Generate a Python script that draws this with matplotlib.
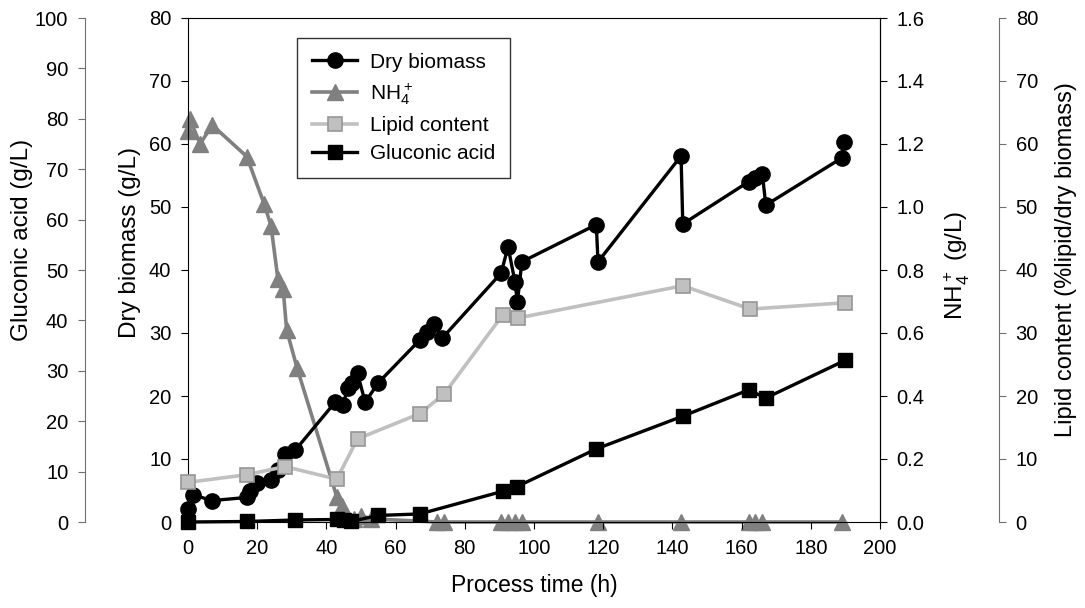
import matplotlib
matplotlib.use("Agg")
import matplotlib.pyplot as plt

plt.rcParams["font.family"] = ["Liberation Sans", "DejaVu Sans"]
plt.rcParams["mathtext.fontset"] = "custom"
plt.rcParams["mathtext.rm"] = "Liberation Sans"
plt.rcParams["mathtext.default"] = "regular"

# --------------------------------------------------
# Data
# --------------------------------------------------
biomass_t = [0, 1.5, 7, 17, 18, 20, 24, 26, 28, 31, 42.5, 44.8, 46.2, 47.4, 49, 51.2, 55,
             67, 69, 71, 73.5, 90.5, 92.5, 94.5, 95.2, 96.5, 118, 118.5,
             142.5, 143, 162, 164, 166, 167, 189, 189.5]
biomass = [2.0, 4.3, 3.4, 3.9, 5.0, 6.2, 6.7, 8.3, 10.8, 11.4, 19.0, 18.6, 21.3, 22.1, 23.6, 19.0, 22.1,
           28.9, 30.2, 31.4, 29.2, 39.5, 43.7, 38.1, 34.9, 41.3, 47.2, 41.3,
           58.1, 47.3, 54.0, 54.6, 55.2, 50.3, 57.8, 60.3]

nh4_t = [0, 0.5, 3.5, 7, 17, 22, 24, 26, 27.5, 28.5, 31.5, 43, 44.5, 46, 48, 50, 53,
         72, 74, 90.5, 92.5, 94.5, 96.5, 118.5, 142.5, 162, 164, 166, 189]
nh4 = [1.24, 1.28, 1.20, 1.26, 1.16, 1.01, 0.94, 0.77, 0.74, 0.61, 0.49, 0.08, 0.05, 0.02, 0.01, 0.02, 0.01,
       0.0, 0.0, 0.0, 0.0, 0.0, 0.0, 0.0, 0.0, 0.0, 0.0, 0.0, 0.0]

lipid_t = [0, 17, 28, 43, 49, 67, 74, 91, 95.5, 143, 162.5, 190]
lipid = [6.3, 7.5, 8.8, 6.8, 13.2, 17.2, 20.3, 32.9, 32.4, 37.5, 33.8, 34.8]

gluconic_t = [0, 17, 31, 43, 45, 47, 55, 67, 91, 95, 118, 143, 162, 167, 190]
gluconic = [0.0, 0.1, 0.4, 0.5, 0.3, 0.1, 1.3, 1.6, 6.1, 7.0, 14.5, 21.0, 26.2, 24.6, 32.1]

fig = plt.figure(figsize=(10.85, 6.08), dpi=100)
ax = fig.add_axes([188 / 1085, 1 - 522 / 608, (880 - 188) / 1085, (522 - 18) / 608])
ax_n = ax.twinx()
ax_g = ax.twinx()
ax_l = ax.twinx()

for a, z in [(ax_n, 1), (ax, 2), (ax_g, 3), (ax_l, 4)]:
    a.set_zorder(z)
    a.patch.set_visible(False)

tick_fs = 14.5
label_fs = 16.5


def place_ylabel(a, x, y):
    # put a y label at an axes-fraction position, centred on that point
    a.yaxis.set_label_coords(x, y)
    a.yaxis.label.set_verticalalignment("center")


# dry biomass (main axis)
h_bio, = ax.plot(biomass_t, biomass, color="black", lw=2.4, marker="o", ms=11,
                 mfc="black", mec="black", clip_on=False, label="Dry biomass")
ax.set_xlim(0, 200)
ax.set_ylim(0, 80)
ax.set_xticks(range(0, 201, 20))
ax.set_yticks(range(0, 81, 10))
ax.set_xlabel("Process time (h)", fontsize=label_fs, labelpad=12)
ax.set_ylabel("Dry biomass (g/L)", fontsize=17.5)
place_ylabel(ax, (130 - 188) / 692, 0.555)
ax.tick_params(axis="both", direction="out", length=5, labelsize=tick_fs, pad=7)

# NH4+ on the main right spine
h_nh4, = ax_n.plot(nh4_t, nh4, color="#808080", lw=2.6, marker="^", ms=12,
                   mfc="#808080", mec="#808080", clip_on=False, label=r"NH$_4^+$")
ax_n.set_ylim(0, 1.6)
ax_n.set_yticks([i * 0.2 for i in range(9)])
ax_n.set_yticklabels([f"{i * 0.2:.1f}" for i in range(9)])
ax_n.set_ylabel(r"NH$_4^+$ (g/L)", fontsize=17.5)
place_ylabel(ax_n, (957 - 188) / 692, 0.51)
ax_n.tick_params(axis="y", direction="out", length=5, labelsize=tick_fs, pad=7)
for s in ["left", "top", "bottom"]:
    ax_n.spines[s].set_visible(False)

# gluconic acid on an outer left axis
h_glu, = ax_g.plot(gluconic_t, gluconic, color="black", lw=2.4, marker="s", ms=10,
                   mfc="black", mec="black", clip_on=False, label="Gluconic acid")
ax_g.set_ylim(0, 100)
ax_g.set_yticks(range(0, 101, 10))
ax_g.yaxis.set_ticks_position("left")
ax_g.yaxis.set_label_position("left")
ax_g.spines["left"].set_position(("outward", 103 * 0.72))
ax_g.spines["left"].set_color("#707070")
for s in ["right", "top", "bottom"]:
    ax_g.spines[s].set_visible(False)
ax_g.set_ylabel("Gluconic acid (g/L)", fontsize=17.5)
place_ylabel(ax_g, (22 - 188) / 692, 0.56)
ax_g.tick_params(axis="y", direction="out", length=5, color="#707070", labelsize=tick_fs, pad=7)

# lipid content on an outer right axis
h_lip, = ax_l.plot(lipid_t, lipid, color="#c0c0c0", lw=2.6, marker="s", ms=10,
                   mfc="#c0c0c0", mec="#969696", mew=1.2, clip_on=False, label="Lipid content")
ax_l.set_ylim(0, 80)
ax_l.set_yticks(range(0, 81, 10))
ax_l.spines["right"].set_position(("outward", 119 * 0.72))
ax_l.spines["right"].set_color("#707070")
for s in ["left", "top", "bottom"]:
    ax_l.spines[s].set_visible(False)
ax_l.set_ylabel("Lipid content (%lipid/dry biomass)", fontsize=17)
place_ylabel(ax_l, (1066 - 188) / 692, 0.52)
ax_l.tick_params(axis="y", direction="out", length=5, color="#707070", labelsize=tick_fs, pad=7)

leg = ax_l.legend(handles=[h_bio, h_nh4, h_lip, h_glu], loc="upper left",
                  bbox_to_anchor=(297 / 1085, 1 - 38 / 608), bbox_transform=fig.transFigure,
                  fontsize=15, frameon=True, fancybox=False, edgecolor="black",
                  handlelength=2.2, handletextpad=0.6, borderpad=0.7,
                  labelspacing=0.45, borderaxespad=0)
leg.get_frame().set_linewidth(1.0)

fig.savefig("out.png", dpi=100, facecolor="white")
